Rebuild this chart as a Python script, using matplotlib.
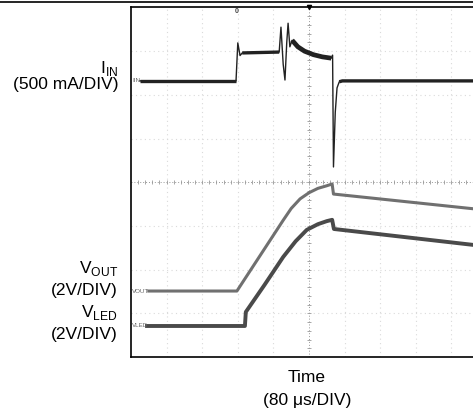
#!/usr/bin/env python3
"""Scope capture: input current, output voltage and LED voltage at start-up."""

import matplotlib
matplotlib.use("Agg")
import matplotlib.pyplot as plt
from matplotlib.lines import Line2D

plt.rcParams["font.family"] = ["Liberation Sans", "DejaVu Sans"]

# time in microseconds (80 us/div, 10 div), traces in screen divisions (0..8)
TIME_SPAN = 800
N_DIV_Y = 8

iin_t = [20, 236, 240, 245, 250, 333, 337, 342, 346, 350, 353, 357, 362,
         375, 390, 410, 430, 450, 453, 455, 459, 463, 468, 475, 800]
iin_v = [6.32, 6.32, 7.19, 6.90, 6.96, 6.98, 7.55, 6.70, 6.34, 7.20, 7.64,
         7.10, 7.25, 7.10, 7.00, 6.92, 6.87, 6.84, 6.91, 4.35, 5.60, 6.16,
         6.30, 6.32, 6.32]

vout_t = [40, 238, 342, 360, 380, 400, 420, 440, 452, 455, 800]
vout_v = [1.51, 1.51, 3.13, 3.40, 3.62, 3.76, 3.86, 3.92, 3.96, 3.73, 3.36]

vled_t = [36, 256, 258, 300, 342, 370, 395, 420, 440, 452, 456, 800]
vled_v = [0.71, 0.71, 1.03, 1.65, 2.29, 2.65, 2.91, 3.04, 3.11, 3.14, 2.93, 2.53]

W, H = 473, 411
fig = plt.figure(figsize=(W / 100, H / 100), dpi=100)
ax = fig.add_axes([131 / W, (H - 357) / H, 356 / W, 349.5 / H])
ax.set_xlim(0, TIME_SPAN)
ax.set_ylim(0, N_DIV_Y)
ax.set_xticks([])
ax.set_yticks([])
for s in ax.spines.values():
    s.set_linewidth(1.2)
    s.set_color("black")

# graticule
div_t = TIME_SPAN / 10
for i in range(1, 10):
    if i != 5:
        ax.axvline(i * div_t, color="#dadada", lw=0.8, ls=(0, (1, 3)), zorder=1)
for j in range(1, N_DIV_Y):
    if j != N_DIV_Y // 2:
        ax.axhline(j, color="#dadada", lw=0.8, ls=(0, (1, 3)), zorder=1)
ax.axvline(5 * div_t, color="#999999", lw=0.7, ls=(0, (1, 2)), zorder=1)
ax.axhline(N_DIV_Y / 2, color="#999999", lw=0.7, ls=(0, (1, 2)), zorder=1)
minor_x = [k * div_t / 5 for k in range(1, 50)]
minor_y = [k / 5 for k in range(1, 5 * N_DIV_Y)]
ax.plot(minor_x, [N_DIV_Y / 2] * len(minor_x), ls="none", marker="|",
        ms=3, mew=0.6, color="#999999", zorder=1)
ax.plot([5 * div_t] * len(minor_y), minor_y, ls="none", marker="_",
        ms=3, mew=0.6, color="#999999", zorder=1)

# traces (thin overall, heavier where the signal sits on a level)
ax.plot(iin_t, iin_v, color="#222222", lw=1.0, zorder=3)
thick = dict(color="#222222", solid_capstyle="butt", zorder=3)
ax.plot(iin_t[:2], iin_v[:2], lw=2.4, **thick)
ax.plot(iin_t[4:6], iin_v[4:6], lw=2.4, **thick)
ax.plot(iin_t[12:18], iin_v[12:18], lw=3.4, **thick)
ax.plot(iin_t[-3:], iin_v[-3:], lw=2.4, **thick)
ax.plot(vout_t, vout_v, color="#707070", lw=2.2, zorder=3)
ax.plot(vled_t, vled_v, color="#4a4a4a", lw=2.8, zorder=3)

# channel tags and markers
tag = dict(fontsize=4.5, color="#666666", va="center", ha="left")
ax.text(2, iin_v[0], "IIN", **tag)
ax.text(2, vout_v[0], "VOUT", **tag)
ax.text(2, vled_v[0], "VLED", **tag)
ax.text(238, 7.9, "0", fontsize=5, fontweight="bold", color="#444444",
        ha="center", va="center")
ax.plot([5 * div_t], [N_DIV_Y], marker="v", ms=3, color="black",
        clip_on=False, zorder=4)

# frame line at top
fig.add_artist(Line2D([0, 1], [1 - 2 / H, 1 - 2 / H], color="black", lw=1.2))

# left labels
lab = dict(fontsize=12.5, ha="right", va="center")
fig.text(118 / W, 1 - 68 / H, r"I$_{\mathregular{IN}}$", **lab)
fig.text(118 / W, 1 - 85 / H, "(500 mA/DIV)", **lab)
fig.text(118 / W, 1 - 269 / H, r"V$_{\mathregular{OUT}}$", **lab)
fig.text(118 / W, 1 - 290 / H, "(2V/DIV)", **lab)
fig.text(118 / W, 1 - 312 / H, r"V$_{\mathregular{LED}}$", **lab)
fig.text(118 / W, 1 - 334 / H, "(2V/DIV)", **lab)

fig.text(307 / W, 1 - 377 / H, "Time", fontsize=12.5, ha="center", va="center")
fig.text(307 / W, 1 - 400 / H, "(80 \u03bcs/DIV)", fontsize=12.5,
         ha="center", va="center")

fig.savefig("out.png", dpi=100)
